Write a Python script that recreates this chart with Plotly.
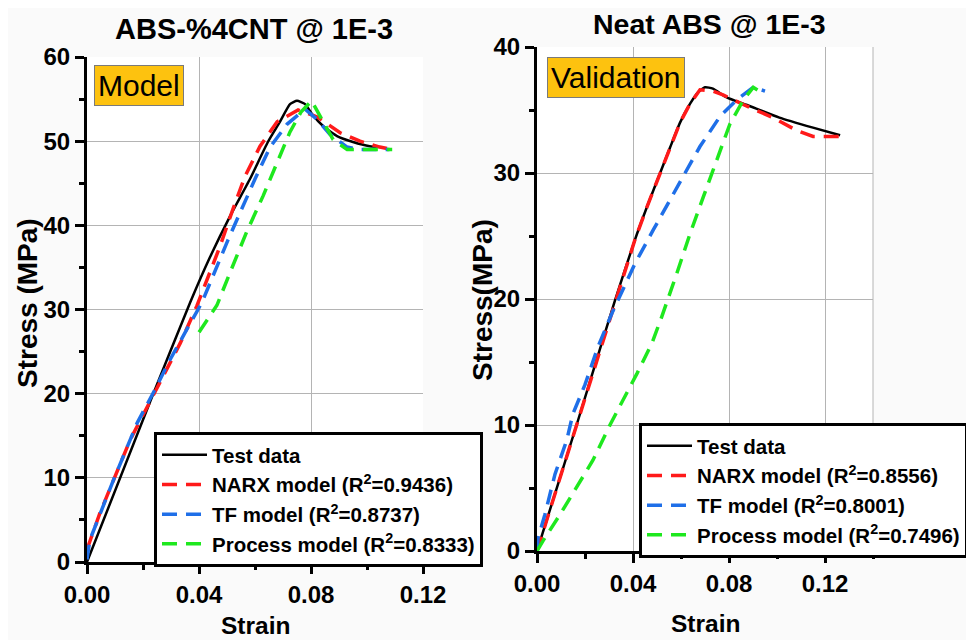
import plotly.graph_objects as go

# ---------------- data ----------------
# Left panel: ABS-%4CNT @ 1E-3 (Model)
L_test_x = [0, 0.0225, 0.0368, 0.0439, 0.0511, 0.0582, 0.0646, 0.0689, 0.0725, 0.0750, 0.0779, 0.0804, 0.0843, 0.0893, 0.0950, 0.1010, 0.1046]
L_test_y = [0, 19.0, 30.8, 36.2, 41.1, 45.5, 49.9, 52.3, 54.4, 54.8, 54.4, 53.2, 51.8, 50.6, 49.9, 49.4, 49.3]

L_narx_x = [0, 0.0046, 0.0154, 0.0236, 0.0333, 0.0392, 0.0475, 0.0521, 0.0564, 0.0618, 0.0679, 0.0754, 0.0821, 0.0904, 0.0975, 0.1046, 0.1090]
L_narx_y = [1.5, 5.8, 14.5, 19.7, 26.0, 30.4, 37.5, 41.9, 45.8, 49.4, 52.3, 53.7, 52.9, 51.0, 50.0, 49.3, 49.0]

L_tf_x = [0, 0.0010, 0.0094, 0.0179, 0.0243, 0.0296, 0.0356, 0.0410, 0.0504, 0.0546, 0.0600, 0.0654, 0.0714, 0.0779, 0.0821, 0.0868, 0.0929, 0.0975, 0.1080]
L_tf_y = [0.3, 2.6, 9.7, 16.5, 20.5, 24.0, 27.6, 30.8, 38.3, 41.5, 45.5, 49.3, 52.0, 53.8, 52.6, 50.8, 49.3, 49.0, 49.0]

L_proc_x = [0.0400, 0.0464, 0.0511, 0.0570, 0.0629, 0.0679, 0.0725, 0.0765, 0.0802, 0.0832, 0.0879, 0.0929, 0.1090]
L_proc_y = [27.3, 30.5, 34.4, 39.2, 43.5, 47.5, 51.1, 53.5, 54.8, 53.0, 50.2, 49.0, 49.0]

L_r2 = ["0.9436", "0.8737", "0.8333"]

# Right panel: Neat ABS @ 1E-3 (Validation)
R_test_x = [0, 0.0165, 0.0325, 0.0408, 0.0460, 0.0513, 0.0554, 0.0596, 0.0638, 0.0671, 0.0700, 0.0733, 0.0790, 0.0875, 0.1010, 0.1150, 0.1263]
R_test_y = [0, 10.0, 19.9, 24.7, 27.4, 30.0, 32.0, 34.0, 35.5, 36.4, 36.8, 36.7, 36.0, 35.4, 34.4, 33.6, 33.0]

R_narx_x = [0, 0.0165, 0.0325, 0.0408, 0.0460, 0.0513, 0.0554, 0.0596, 0.0638, 0.0679, 0.0733, 0.0775, 0.0875, 0.0983, 0.1080, 0.1150, 0.1290]
R_narx_y = [0, 10.0, 19.9, 24.7, 27.4, 30.0, 32.0, 34.0, 35.5, 36.6, 36.5, 36.2, 35.3, 34.4, 33.4, 32.9, 32.9]

R_tf_x = [0, 0.0004, 0.0033, 0.0075, 0.0124, 0.0150, 0.0200, 0.0254, 0.0313, 0.0408, 0.0485, 0.0554, 0.0617, 0.0679, 0.0763, 0.0832, 0.0901, 0.0950]
R_tf_y = [0, 1.0, 2.9, 6.1, 8.8, 10.9, 13.2, 16.2, 18.9, 22.8, 25.5, 27.9, 30.0, 32.1, 34.5, 35.8, 36.8, 36.5]

R_proc_x = [0, 0.0025, 0.0096, 0.0165, 0.0233, 0.0304, 0.0360, 0.0417, 0.0479, 0.0520, 0.0582, 0.0638, 0.0693, 0.0749, 0.0804, 0.0860, 0.0901, 0.0950]
R_proc_y = [0, 0.8, 2.9, 5.1, 7.2, 10.0, 12.0, 14.1, 16.5, 18.6, 22.0, 25.2, 28.1, 31.0, 33.9, 35.8, 36.8, 36.2]

R_r2 = ["0.8556", "0.8001", "0.7496"]

x_ticks = [0, 0.04, 0.08, 0.12]
x_ticklabels = ["0.00", "0.04", "0.08", "0.12"]

# ---------------- styling ----------------
FONT = "Liberation Sans, Arial, sans-serif"
RED = "#ff1a1a"
BLUE = "#1f6fe8"
GREEN = "#1ee81e"
DASH = "15px,9px"
GRID = "#b4b4b4"

fig = go.Figure()

def add_panel(xa, ya, legend, tx, ty, nx, ny, fx, fy, px, py, r2):
    fig.add_trace(go.Scatter(x=tx, y=ty, mode="lines", name="Test data",
                             line=dict(color="black", width=2.5, shape="spline", smoothing=0.5),
                             xaxis=xa, yaxis=ya, legend=legend))
    fig.add_trace(go.Scatter(x=nx, y=ny, mode="lines",
                             name=f"NARX model (R<sup>2</sup>={r2[0]})",
                             line=dict(color=RED, width=3.5, dash=DASH),
                             xaxis=xa, yaxis=ya, legend=legend))
    fig.add_trace(go.Scatter(x=fx, y=fy, mode="lines",
                             name=f"TF model (R<sup>2</sup>={r2[1]})",
                             line=dict(color=BLUE, width=3.5, dash=DASH),
                             xaxis=xa, yaxis=ya, legend=legend))
    fig.add_trace(go.Scatter(x=px, y=py, mode="lines",
                             name=f"Process model (R<sup>2</sup>={r2[2]})",
                             line=dict(color=GREEN, width=3.5, dash=DASH),
                             xaxis=xa, yaxis=ya, legend=legend))

add_panel("x", "y", "legend", L_test_x, L_test_y, L_narx_x, L_narx_y,
          L_tf_x, L_tf_y, L_proc_x, L_proc_y, L_r2)
add_panel("x2", "y2", "legend2", R_test_x, R_test_y, R_narx_x, R_narx_y,
          R_tf_x, R_tf_y, R_proc_x, R_proc_y, R_r2)

W, H = 974, 640
OFF = 8  # default page body margin
def px_x(p):
    return (p - OFF) / W
def px_y(p):
    return 1 - (p - OFF) / H

tickfont = dict(family=FONT, size=24, color="black", weight="bold")

def xaxis_cfg(dom, rng, anchor):
    return dict(domain=dom, range=rng, anchor=anchor, automargin=False,
                tickvals=x_ticks, ticktext=x_ticklabels,
                showline=True, linecolor="black", linewidth=3,
                ticks="outside", ticklen=9, tickwidth=2.5, tickcolor="black",
                minor=dict(dtick=0.02, ticks="outside", ticklen=5, tickwidth=2.5,
                           tickcolor="black", showgrid=False),
                showgrid=True, gridcolor=GRID, gridwidth=1,
                zeroline=False, tickfont=tickfont, fixedrange=True)

def yaxis_cfg(dom, rng, anchor):
    return dict(domain=dom, range=rng, anchor=anchor, automargin=False, dtick=10, tick0=0,
                showline=True, linecolor="black", linewidth=3,
                ticks="outside", ticklen=9, tickwidth=2.5, tickcolor="black",
                minor=dict(dtick=5, ticks="outside", ticklen=5, tickwidth=2.5,
                           tickcolor="black", showgrid=False),
                showgrid=True, gridcolor=GRID, gridwidth=1,
                zeroline=False, tickfont=tickfont, fixedrange=True)

legend_common = dict(
    bgcolor="white", bordercolor="black", borderwidth=3,
    font=dict(family=FONT, size=20.5, color="black", weight="bold"),
    xanchor="left", yanchor="top", itemwidth=45, tracegroupgap=0,
)

fig.update_layout(
    width=W, height=H,
    margin=dict(l=0, r=0, t=0, b=0, autoexpand=False),
    paper_bgcolor="#fafafa", plot_bgcolor="white",
    xaxis=xaxis_cfg([px_x(87), px_x(423)], [0, 0.12], "y"),
    yaxis=yaxis_cfg([px_y(562), px_y(57)], [0, 60], "x"),
    xaxis2=xaxis_cfg([px_x(537), px_x(873)], [0, 0.14], "y2"),
    yaxis2=yaxis_cfg([px_y(551), px_y(47)], [0, 40], "x2"),
    legend=dict(x=px_x(154), y=px_y(432), **legend_common),
    legend2=dict(x=px_x(639), y=px_y(423), **legend_common),
    showlegend=True,
)

# right border of right panel (no gridline at 0.14)
fig.add_shape(type="line", xref="x2 domain", yref="y2 domain", x0=1, x1=1, y0=0, y1=1,
              line=dict(color=GRID, width=1), layer="below")

ann_bold = dict(family=FONT, color="black", weight="bold")
annotations = [
    dict(text="ABS-%4CNT @ 1E-3", x=px_x(254), y=px_y(29), font=dict(size=29, **ann_bold)),
    dict(text="Neat ABS @ 1E-3", x=px_x(709), y=px_y(24), font=dict(size=28.5, **ann_bold)),
    dict(text="Strain", x=px_x(255), y=px_y(625), font=dict(size=24.5, **ann_bold)),
    dict(text="Strain", x=px_x(705), y=px_y(623), font=dict(size=24.5, **ann_bold)),
    dict(text="Stress (MPa)", x=px_x(27), y=px_y(303), textangle=-90, font=dict(size=28, **ann_bold)),
    dict(text="Stress(MPa)", x=px_x(482), y=px_y(300), textangle=-90, font=dict(size=28, **ann_bold)),
    dict(text="Model", x=px_x(138.5), y=px_y(85), font=dict(size=30, family=FONT, color="black"),
         bgcolor="#fdc20f", bordercolor="#7a7a7a", borderwidth=1, borderpad=3),
    dict(text="Validation", x=px_x(616), y=px_y(77.5), font=dict(size=30, family=FONT, color="black"),
         bgcolor="#fdc20f", bordercolor="#7a7a7a", borderwidth=1, borderpad=3),
]
for a in annotations:
    a.update(xref="paper", yref="paper", showarrow=False, xanchor="center", yanchor="middle")
fig.update_layout(annotations=annotations)

fig.write_html("out.html")
